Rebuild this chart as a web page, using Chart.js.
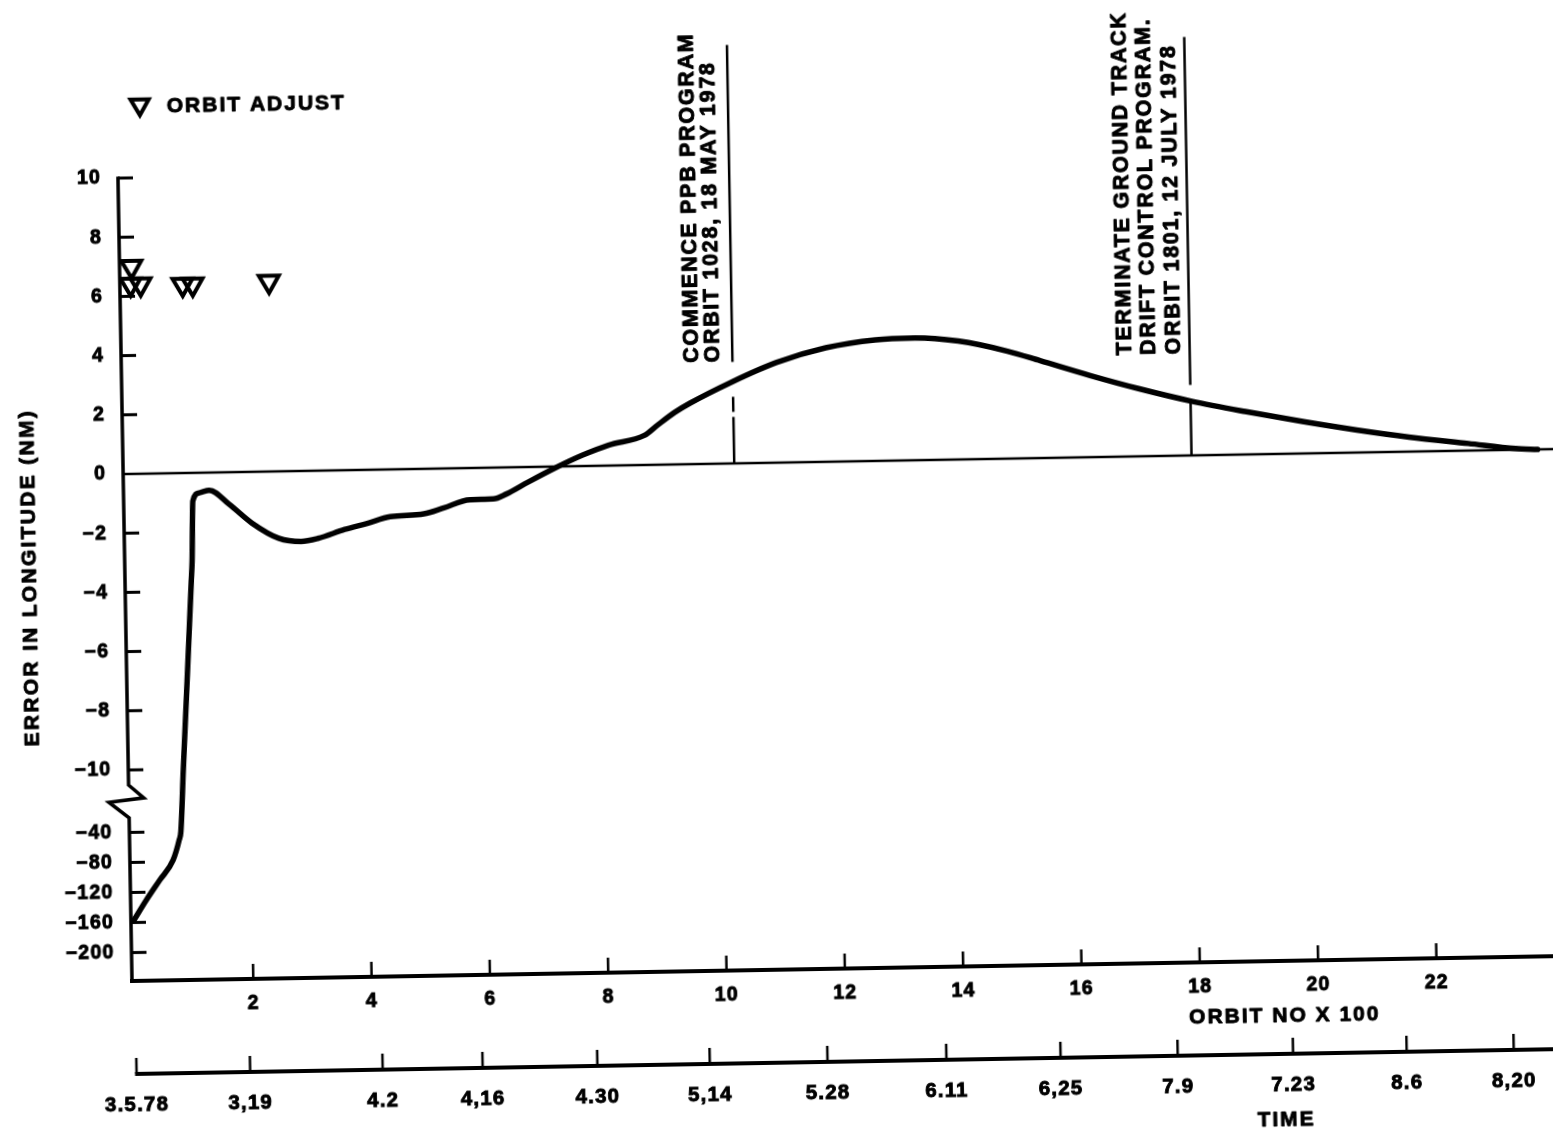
<!DOCTYPE html>
<html>
<head>
<meta charset="utf-8">
<title>Error in longitude vs orbit number</title>
<script src="https://cdn.jsdelivr.net/npm/chart.js@4/dist/chart.umd.min.js"></script>
<style>
  html, body { margin: 0; padding: 0; background: #fff; overflow: hidden; width: 1553px; height: 1133px; }
  #sheet { position: absolute; left: 0; top: 0; width: 1600px; height: 1170px;
           transform-origin: 132px 981px; transform: rotate(-1deg); }
  canvas { display: block; }
</style>
</head>
<body>
<div id="sheet"><canvas id="plot" width="1600" height="1170"></canvas></div>
<script>
// ---- data -------------------------------------------------------------
// Longitude error history: orbit number and error in longitude (NM)
const orbitNumbers = [0, 22, 45, 68, 79, 82, 88, 97, 107, 109, 112, 123, 140, 173, 211, 256, 294, 322,
  368, 406, 445, 502, 536, 580, 620, 642, 679, 725, 772, 816, 877, 899, 929, 955, 1024, 1102, 1186,
  1270, 1337, 1410, 1493, 1548, 1632, 1715, 1803, 1893, 1992, 2081, 2169, 2269, 2349, 2386];
const longitudeError = [-157, -130, -104, -78, -51, -40, -10.1, -7.03, -3.65, -2.98, -0.95, -0.68, -0.6,
  -1.08, -1.73, -2.26, -2.38, -2.29, -2.0, -1.81, -1.6, -1.52, -1.33, -1.07, -1.06, -0.9, -0.51, -0.05,
  0.37, 0.69, 1.0, 1.33, 1.76, 2.06, 2.73, 3.38, 3.85, 4.09, 4.13, 4.0, 3.63, 3.29, 2.76, 2.28, 1.83,
  1.45, 1.07, 0.76, 0.49, 0.24, 0.04, 0.0];

// Orbit adjust manoeuvres (orbit number, marker level in NM)
const adjustOrbits = [13, 15, 30, 101, 118, 247];
const adjustLevels = [6.4, 7.0, 6.4, 6.37, 6.37, 6.42];

// Axis ticks
const orbitTickValues = [200, 400, 600, 800, 1000, 1200, 1400, 1600, 1800, 2000, 2200];
const errorTickValues = [10, 8, 6, 4, 2, 0, -2, -4, -6, -8, -10, -40, -80, -120, -160, -200];
const timeTickOrbits = [0, 192, 416, 585, 779, 969, 1168, 1369, 1562, 1760, 1955, 2147, 2328];
const timeTickLabels = ['3.5.78', '3,19', '4.2', '4,16', '4.30', '5,14', '5.28', '6.11', '6,25',
  '7.9', '7.23', '8.6', '8,20'];

// Program events
const eventOrbits = [1028, 1801];
const eventLabels = [
  ['COMMENCE PPB PROGRAM', 'ORBIT 1028, 18 MAY 1978'],
  ['TERMINATE GROUND TRACK', 'DRIFT CONTROL PROGRAM.', 'ORBIT 1801, 12 JULY 1978']
];

// ---- broken error axis -------------------------------------------------
// Values down to -10 NM keep full scale; from -40 NM down the scale is compressed.
const BREAK_HI = -10, BREAK_LO = -40, LO_AT = -12.11, LO_SCALE = 0.02538;
function axisPos(v) {
  if (v >= BREAK_HI) return v;
  if (v <= BREAK_LO) return LO_AT + (v - BREAK_LO) * LO_SCALE;
  return BREAK_HI + (v - BREAK_HI) / (BREAK_LO - BREAK_HI) * (LO_AT - BREAK_HI);
}

// ---- styling ----------------------------------------------------------
const FONT = "'Liberation Sans', Arial, Helvetica, sans-serif";
const INK = '#000';
const TEXT_STROKE = 0.9;
const BREAK_MARKS = [[-10.51, 0], [-10.95, 15], [-11.08, -20], [-11.62, 0]];   // axis pos, x offset px
const EVENT_SEGMENTS = [
  [[14.14, 3.43], [2.25, 1.74], [1.57, 0]],
  [[14.14, 2.38], [1.77, 0]]
];
const EVENT_TEXT_OFFSETS = [[-40, -19], [-64, -40, -15]];
const EVENT_TEXT_START = 3.42;

function strokeLine(ctx, x1, y1, x2, y2, w) {
  ctx.lineWidth = w;
  ctx.beginPath();
  ctx.moveTo(x1, y1);
  ctx.lineTo(x2, y2);
  ctx.stroke();
}

function spacedText(ctx, text, x, y, size, spacing, align, angle) {
  ctx.save();
  ctx.translate(x, y);
  if (angle) ctx.rotate(angle);
  ctx.font = 'bold ' + size + 'px ' + FONT;
  ctx.letterSpacing = spacing + 'px';
  ctx.textAlign = align;
  ctx.textBaseline = 'middle';
  ctx.fillStyle = INK;
  ctx.strokeStyle = INK;
  ctx.lineWidth = TEXT_STROKE;
  ctx.lineJoin = 'round';
  ctx.fillText(text, 0, 0);
  ctx.strokeText(text, 0, 0);
  ctx.restore();
}

function downTriangle(ctx, x, y, r, w) {
  ctx.save();
  ctx.lineWidth = w;
  ctx.strokeStyle = INK;
  ctx.beginPath();
  for (let k = 0; k < 3; k++) {
    const a = Math.PI + k * 2 * Math.PI / 3;
    const px = x + Math.sin(a) * r, py = y - Math.cos(a) * r;
    if (k === 0) ctx.moveTo(px, py); else ctx.lineTo(px, py);
  }
  ctx.closePath();
  ctx.stroke();
  ctx.restore();
}

// Axes, zero line, break symbol, event markers and free text
const drawingPlugin = {
  id: 'sheetDrawing',
  beforeDraw(chart) {
    chart.ctx.letterSpacing = '1.2px';
  },
  beforeDatasetsDraw(chart) {
    const { ctx, chartArea: a, scales } = chart;
    const x = scales.x, y = scales.y, time = scales.time;
    const W = chart.width;
    ctx.save();
    ctx.strokeStyle = INK;
    ctx.lineCap = 'butt';

    // zero reference line
    const y0 = y.getPixelForValue(0);
    strokeLine(ctx, a.left, y0, W, y0, 2.5);

    // error axis with break
    ctx.lineWidth = 3.5;
    ctx.lineJoin = 'miter';
    ctx.beginPath();
    ctx.moveTo(a.left, y.getPixelForValue(10) - 1.5);
    BREAK_MARKS.forEach(([t, dx]) => ctx.lineTo(a.left + dx, y.getPixelForValue(t)));
    ctx.lineTo(a.left, a.bottom + 2);
    ctx.stroke();
    errorTickValues.forEach(v => {
      if (v === 0) return;
      const py = y.getPixelForValue(axisPos(v));
      strokeLine(ctx, a.left, py, a.left + 15, py, 3);
    });

    // orbit axis
    strokeLine(ctx, a.left - 2, a.bottom, W, a.bottom, 4);
    orbitTickValues.forEach(v => {
      const px = x.getPixelForValue(v);
      strokeLine(ctx, px, a.bottom, px, a.bottom - 15, 2.5);
    });

    // time axis
    const ty = time.top;
    strokeLine(ctx, time.getPixelForValue(timeTickOrbits[0]) - 1.5, ty, W, ty, 4);
    timeTickOrbits.forEach(v => {
      const px = time.getPixelForValue(v);
      strokeLine(ctx, px, ty, px, ty - 16, 2.5);
    });
    ctx.restore();
  },
  afterDraw(chart) {
    const { ctx, chartArea: a, scales } = chart;
    const x = scales.x, y = scales.y, time = scales.time;
    ctx.save();
    ctx.strokeStyle = INK;
    ctx.lineCap = 'butt';

    // event lines and their captions
    eventOrbits.forEach((orbit, i) => {
      const lx = x.getPixelForValue(orbit);
      EVENT_SEGMENTS[i].forEach(([t1, t2]) => {
        strokeLine(ctx, lx, y.getPixelForValue(t1), lx, y.getPixelForValue(t2), 2.5);
      });
      const ys = y.getPixelForValue(EVENT_TEXT_START);
      eventLabels[i].forEach((txt, j) => {
        spacedText(ctx, txt, lx + EVENT_TEXT_OFFSETS[i][j], ys, 21.5, 1.7, 'left', -Math.PI / 2);
      });
    });

    // legend
    downTriangle(ctx, a.left + 23, a.top - 73, 10.5, 4);
    spacedText(ctx, 'ORBIT ADJUST', a.left + 50, a.top - 70.5, 21, 2, 'left', 0);

    // axis titles
    spacedText(ctx, 'ERROR IN LONGITUDE (NM)', 37, 576, 21, 2.3, 'center', -Math.PI / 2);
    spacedText(ctx, 'ORBIT NO X 100', 1284, x.bottom - 38, 21, 2, 'center', 0);
    spacedText(ctx, 'TIME', 1284, time.bottom - 30, 21, 2, 'center', 0);
    ctx.restore();
  }
};

const tickOpts = (size, padding, callback) => ({
  autoSkip: false, maxRotation: 0, padding: padding, color: INK,
  font: { family: FONT, size: size, weight: 'bold' },
  textStrokeColor: INK, textStrokeWidth: TEXT_STROKE,
  callback: callback
});

new Chart(document.getElementById('plot'), {
  type: 'line',
  data: {
    datasets: [
      {
        label: 'Error in longitude',
        data: orbitNumbers.map((o, i) => ({ x: o, y: axisPos(longitudeError[i]) })),
        borderColor: INK,
        borderWidth: 5.5,
        pointRadius: 0,
        cubicInterpolationMode: 'monotone',
        borderCapStyle: 'round',
        borderJoinStyle: 'round',
        fill: false
      },
      {
        label: 'Orbit adjust',
        data: adjustOrbits.map((o, i) => ({ x: o, y: axisPos(adjustLevels[i]) })),
        showLine: false,
        pointStyle: 'triangle',
        pointRotation: 180,
        pointRadius: 11.5,
        pointBorderWidth: 4,
        pointBorderColor: INK,
        pointBackgroundColor: 'rgba(0,0,0,0)'
      }
    ]
  },
  options: {
    responsive: false,
    animation: false,
    devicePixelRatio: 1,
    events: [],
    layout: { padding: { top: 178, left: 0, right: 0, bottom: 0 } },
    plugins: { legend: { display: false }, tooltip: { enabled: false } },
    scales: {
      x: {
        type: 'linear', position: 'bottom', weight: 0, min: -5, max: 2450,
        grid: { display: false, drawTicks: false }, border: { display: false },
        afterBuildTicks: s => { s.ticks = orbitTickValues.map(v => ({ value: v })); },
        afterFit: s => { s.height = 93; },
        ticks: tickOpts(19.5, 13, v => String(v / 100))
      },
      time: {
        type: 'linear', position: 'bottom', weight: 1, min: -5, max: 2450,
        grid: { display: false, drawTicks: false }, border: { display: false },
        afterBuildTicks: s => { s.ticks = timeTickOrbits.map(v => ({ value: v })); },
        afterFit: s => { s.height = 96; },
        ticks: tickOpts(20.5, 19, (v, i) => timeTickLabels[i])
      },
      y: {
        type: 'linear', position: 'left', min: -17.13, max: 10,
        grid: { display: false, drawTicks: false }, border: { display: false },
        afterBuildTicks: s => { s.ticks = errorTickValues.map(v => ({ value: axisPos(v) })); },
        afterFit: s => { s.width = 132; },
        ticks: tickOpts(19.5, 17, (v, i) => String(errorTickValues[i]).replace('-', '\u2212'))
      }
    }
  },
  plugins: [drawingPlugin]
});
</script>
</body>
</html>
